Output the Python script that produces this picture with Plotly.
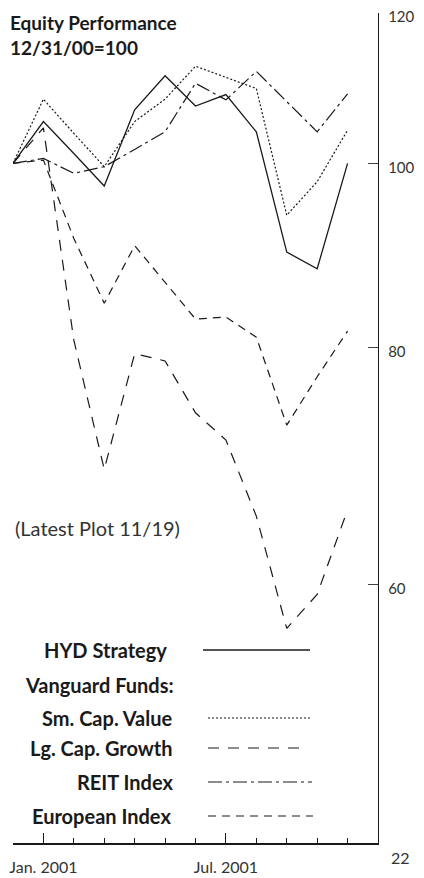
import math
import plotly.graph_objects as go

# ---------------- data ----------------
months = ["Dec 2000", "Jan 2001", "Feb 2001", "Mar 2001", "Apr 2001", "May 2001",
          "Jun 2001", "Jul 2001", "Aug 2001", "Sep 2001", "Oct 2001", "Nov 2001"]
hyd_strategy   = [100, 105.2, 101.2, 97.3, 106.7, 111.2, 107.2, 108.7, 103.9, 89.8, 88.0, 100.0]
sm_cap_value   = [100, 108.1, 103.7, 99.6, 105.2, 108.1, 112.5, 111.0, 109.5, 93.9, 97.8, 104.1]
lg_cap_growth  = [100, 104.4, 80.7, 69.0, 79.4, 78.7, 73.9, 71.5, 65.2, 56.9, 59.3, 65.7]
reit_index     = [100, 100.6, 98.8, 99.6, 101.7, 103.9, 110.2, 108.0, 111.8, 107.8, 103.9, 108.8]
european_index = [100, 100.4, 91.3, 84.4, 90.5, 86.6, 82.8, 83.0, 81.0, 72.8, 77.2, 81.6]

y_tick_vals = [120, 100, 80, 60]
y_tick_text = ["120", "100", "80", "60"]
y_bottom_label = "22"
x_tick_months = ["Jan 2001", "Jul 2001"]
x_tick_text = ["Jan. 2001", "Jul. 2001"]

series_names = ["HYD Strategy", "Sm. Cap. Value", "Lg. Cap. Growth", "REIT Index", "European Index"]
series_values = [hyd_strategy, sm_cap_value, lg_cap_growth, reit_index, european_index]

# ---------------- styling ----------------
# the page body adds an 8px offset, so the figure is 8px smaller than the window
OFF = 8
W, H = 416, 870
ML, MR, MT, MB = 5, 46, 5, 35
PW, PH = W - ML - MR, H - MT - MB

dashes = ["solid", "2px,2px", "11px,9px", "14px,4px,3px,4px", "8px,6px"]
widths = [1.3, 1.2, 1.2, 1.2, 1.2]
INK = "#1a1a1a"
FONT = "Lato"

x_idx = list(range(len(months)))

fig = go.Figure()
for name, vals, dsh, wd in zip(series_names, series_values, dashes, widths):
    fig.add_trace(go.Scatter(x=x_idx, y=vals, mode="lines", name=name,
                             line=dict(color=INK, width=wd, dash=dsh),
                             showlegend=False, hoverinfo="x+y+name"))


def px_x(px):
    return (px - OFF - ML) / PW


def px_y(py):
    return (H - MB - (py - OFF)) / PH


annotations = []
# title
annotations.append(dict(text="<b>Equity Performance<br>12/31/00=100</b>",
                        xref="paper", yref="paper", x=px_x(8), y=px_y(9),
                        xanchor="left", yanchor="top", align="left", showarrow=False,
                        font=dict(family=FONT, size=19, color=INK)))
# note
annotations.append(dict(text="(Latest Plot 11/19)", xref="paper", yref="paper",
                        x=px_x(97), y=px_y(528), xanchor="center", yanchor="middle",
                        showarrow=False, font=dict(family=FONT, size=20, color="#333333")))
# bottom y label
annotations.append(dict(text=y_bottom_label, xref="paper", yref="paper",
                        x=1, y=0, xanchor="left", yanchor="middle", xshift=11, yshift=-14,
                        showarrow=False, font=dict(family=FONT, size=16, color="#333333")))

# custom legend
legend_rows = [("HYD Strategy", 650, 0, 169), ("Vanguard Funds:", 685, None, 176),
               ("Sm. Cap. Value", 718, 1, 175), ("Lg. Cap. Growth", 748, 2, 175),
               ("REIT Index", 782, 3, 175), ("European Index", 816, 4, 173)]
line_spans = {0: (203, 310), 1: (208, 312), 2: (208, 306), 3: (208, 312), 4: (208, 313)}
shapes = []
for label, py, si, xr in legend_rows:
    annotations.append(dict(text="<b>%s</b>" % label, xref="paper", yref="paper",
                            x=px_x(xr), y=px_y(py), xanchor="right", yanchor="middle",
                            showarrow=False, font=dict(family=FONT, size=20, color=INK)))
    if si is not None:
        x0, x1 = line_spans[si]
        shapes.append(dict(type="line", xref="paper", yref="paper",
                           x0=px_x(x0), x1=px_x(x1), y0=px_y(py), y1=px_y(py),
                           line=dict(color=INK, width=widths[si], dash=dashes[si])))

y_lo = 10 ** (2 - (843.3 - 163.3) / 1900.0)
y_hi = 120

fig.update_layout(
    width=W, height=H,
    margin=dict(l=ML, r=MR, t=MT, b=MB, pad=0, autoexpand=False),
    paper_bgcolor="white", plot_bgcolor="white",
    annotations=annotations, shapes=shapes,
    xaxis=dict(range=[0, 12], tickmode="array", automargin=False,
               tickvals=[months.index(m) for m in x_tick_months], ticktext=x_tick_text,
               ticks="inside", ticklen=10, tickwidth=1, tickcolor=INK,
               showline=True, linecolor=INK, linewidth=2, showgrid=False, zeroline=False,
               ticklabelstandoff=9, ticklabeloverflow="allow",
               tickfont=dict(family=FONT, size=16, color="#333333")),
    yaxis=dict(type="log", range=[math.log10(y_lo), math.log10(y_hi)], side="right",
               tickmode="array", tickvals=y_tick_vals, ticktext=y_tick_text, automargin=False,
               ticks="inside", ticklen=10, tickwidth=1, tickcolor="#444444",
               showline=True, linecolor=INK, linewidth=1.3, showgrid=False, zeroline=False,
               ticklabelstandoff=6, ticklabelshift=4, ticklabeloverflow="allow",
               tickfont=dict(family=FONT, size=15, color="#333333")),
)
fig.update_xaxes(minor=dict(tickmode="linear", tick0=0, dtick=1, ticks="inside", ticklen=5,
                            tickcolor=INK, tickwidth=1, showgrid=False))

fig.write_html("out.html")
